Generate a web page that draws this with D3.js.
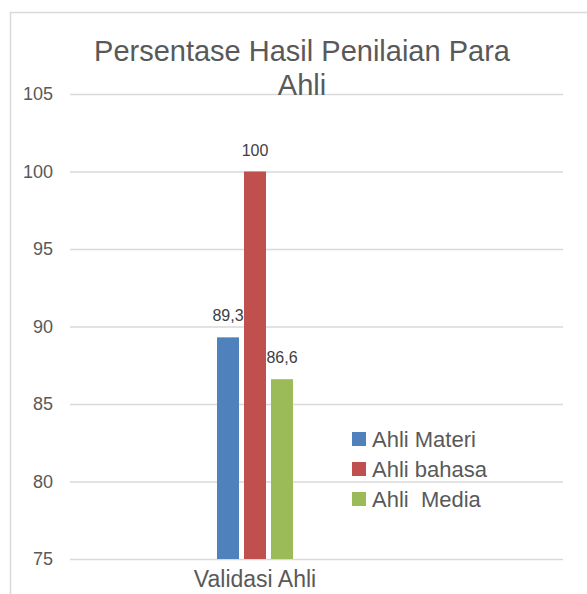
<!DOCTYPE html>
<html>
<head>
<meta charset="utf-8">
<script src="https://cdn.jsdelivr.net/npm/d3@7/dist/d3.min.js"></script>
<style>
  html, body { margin: 0; padding: 0; background: #ffffff; }
  svg { display: block; }
</style>
</head>
<body>
<svg id="chart" width="587" height="594"></svg>
<script>
const categories = ["Validasi Ahli"];
const seriesNames = ["Ahli Materi", "Ahli bahasa", "Ahli  Media"];
const seriesValues = [89.3, 100, 86.6];
const valueLabels = ["89,3", "100", "86,6"];
const yTicks = [75, 80, 85, 90, 95, 100, 105];
const colors = ["#4f81bd", "#c0504d", "#9bbb59"];
const titleLines = ["Persentase Hasil Penilaian Para", "Ahli"];

const svg = d3.select("#chart");
const font = "'Liberation Sans', Arial, sans-serif";
const textColor = "#595959";

// chart frame
svg.append("rect").attr("x", 0).attr("y", 0).attr("width", 587).attr("height", 594).attr("fill", "#ffffff");
svg.append("path")
  .attr("d", "M10.5,600 L10.5,12.5 L600,12.5")
  .attr("fill", "none").attr("stroke", "#d9d9d9").attr("stroke-width", 1.5);

const y = d3.scaleLinear().domain([75, 105]).range([559, 94]);
const gridX0 = 70, gridX1 = 563;

const x0 = d3.scaleBand().domain(categories).range([70, 440]).padding(0);
const x1 = d3.scaleBand().domain(seriesNames).paddingInner(5 / 27).paddingOuter(0);

// gridlines
const yAxis = d3.axisLeft(y).tickValues(yTicks).tickSize(-(gridX1 - gridX0)).tickPadding(17).tickFormat(d3.format("d"));
const gy = svg.append("g").attr("transform", `translate(${gridX0},0)`).call(yAxis);
gy.select(".domain").remove();
gy.selectAll(".tick line").attr("stroke", "#d9d9d9").attr("stroke-width", 1.5);
gy.selectAll(".tick text")
  .attr("fill", textColor).attr("font-family", font).attr("font-size", "18px");

// bars
categories.forEach(cat => {
  const cx = x0(cat) + x0.bandwidth() / 2;
  x1.range([cx - 38, cx + 38]);
  const g = svg.append("g");
  g.selectAll("rect").data(seriesNames).join("rect")
    .attr("x", d => x1(d))
    .attr("width", x1.bandwidth())
    .attr("y", (d, i) => y(seriesValues[i]))
    .attr("height", (d, i) => y(75) - y(seriesValues[i]))
    .attr("fill", (d, i) => colors[i]);
  g.selectAll("text").data(seriesNames).join("text")
    .attr("x", d => x1(d) + x1.bandwidth() / 2)
    .attr("y", (d, i) => y(seriesValues[i]) - 16)
    .attr("text-anchor", "middle")
    .attr("font-family", font).attr("font-size", "16px")
    .attr("fill", "#404040")
    .text((d, i) => valueLabels[i]);
  svg.append("text")
    .attr("x", cx).attr("y", 587)
    .attr("text-anchor", "middle")
    .attr("font-family", font).attr("font-size", "23px")
    .attr("fill", textColor)
    .text(cat);
});

// title
svg.append("text")
  .attr("x", 302).attr("y", 61)
  .attr("text-anchor", "middle")
  .attr("font-family", font).attr("font-size", "29px")
  .attr("fill", textColor)
  .selectAll("tspan").data(titleLines).join("tspan")
  .attr("x", 302).attr("dy", (d, i) => i === 0 ? 0 : 34)
  .text(d => d);

// legend
const legend = svg.append("g");
seriesNames.forEach((name, i) => {
  const cy = 439 + i * 30;
  legend.append("rect").attr("x", 352).attr("y", cy - 7).attr("width", 14).attr("height", 14).attr("fill", colors[i]);
  legend.append("text").attr("x", 372).attr("y", cy + 8)
    .attr("font-family", font).attr("font-size", "22px")
    .attr("fill", textColor)
    .attr("xml:space", "preserve")
    .style("white-space", "pre")
    .text(name);
});
</script>
</body>
</html>
